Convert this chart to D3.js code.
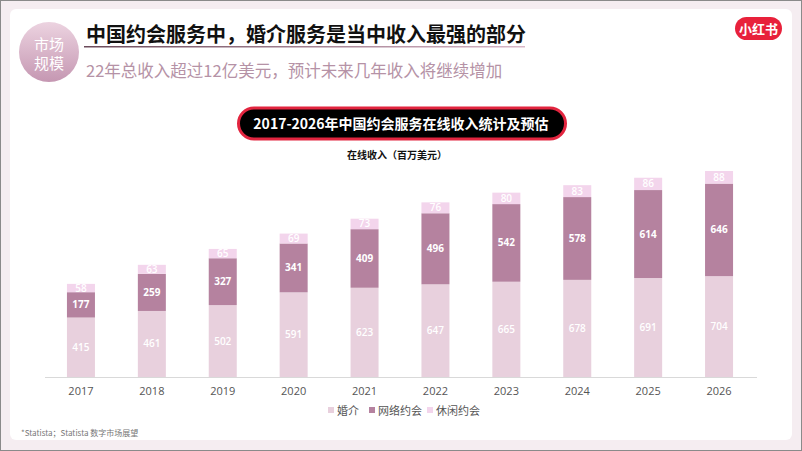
<!DOCTYPE html>
<html><head><meta charset="utf-8">
<script src="https://cdn.jsdelivr.net/npm/d3@7"></script>
<style>
html,body{margin:0;padding:0;background:#fff;}
svg{display:block;}
text{font-family:"Open Sans","Noto Sans CJK SC",sans-serif;}
</style></head>
<body><svg id="c" width="802" height="451"></svg>
<script>
const years = ["2017","2018","2019","2020","2021","2022","2023","2024","2025","2026"];
const marriage = [415,461,502,591,623,647,665,678,691,704];
const online = [177,259,327,341,409,496,542,578,614,646];
const casual = [58,63,65,69,73,76,80,83,86,88];
const seriesNames = ["婚介","网络约会","休闲约会"];
const seriesColors = ["#e8d0dd","#b5829f","#f3d5ec"];

const svg = d3.select("#c");
const cjk = '"Noto Sans CJK SC",sans-serif';

// background frame
svg.append("rect").attr("x",0.5).attr("y",0.5).attr("width",801).attr("height",450)
  .attr("fill","#f5edf1").attr("stroke","#8a8a8a").attr("stroke-width",1);
svg.append("rect").attr("x",10).attr("y",9).attr("width",782).attr("height",431)
  .attr("rx",6).attr("fill","#ffffff");

const defs = svg.append("defs");
const g1 = defs.append("linearGradient").attr("id","circ").attr("x1",0).attr("y1",0).attr("x2",0).attr("y2",1);
g1.append("stop").attr("offset","0%").attr("stop-color","#ecd3e0");
g1.append("stop").attr("offset","100%").attr("stop-color","#c597b2");
const g2 = defs.append("linearGradient").attr("id","ul").attr("x1",0).attr("y1",0).attr("x2",1).attr("y2",0);
g2.append("stop").attr("offset","0%").attr("stop-color","#6b4a5a");
g2.append("stop").attr("offset","100%").attr("stop-color","#d9b7c8");

// badge circle
svg.append("circle").attr("cx",49).attr("cy",52).attr("r",30).attr("fill","url(#circ)");
svg.append("text").attr("x",49).attr("y",50).attr("text-anchor","middle")
  .attr("font-size",15).attr("fill","#fff").style("font-family",cjk).text("市场");
svg.append("text").attr("x",49).attr("y",69).attr("text-anchor","middle")
  .attr("font-size",15).attr("fill","#fff").style("font-family",cjk).text("规模");

// title
svg.append("text").attr("x",86).attr("y",42).attr("font-size",20).attr("font-weight","bold")
  .attr("fill","#111").style("font-family",cjk).text("中国约会服务中，婚介服务是当中收入最强的部分");
svg.append("rect").attr("x",84).attr("y",46).attr("width",441).attr("height",1.5).attr("fill","url(#ul)");
svg.append("text").attr("x",86).attr("y",77).attr("font-size",16.5)
  .attr("fill","#b592a6").style("font-family",cjk).text("22年总收入超过12亿美元，预计未来几年收入将继续增加");

// logo
svg.append("rect").attr("x",735).attr("y",17).attr("width",47).attr("height",23).attr("rx",11.5).attr("fill","#e8213b");
svg.append("text").attr("x",758.5).attr("y",33.5).attr("text-anchor","middle").attr("font-size",13)
  .attr("font-weight","bold").attr("fill","#fff").style("font-family",cjk).text("小红书");

// chart title pill
svg.append("rect").attr("x",238.5).attr("y",108).attr("width",327).attr("height",31).attr("rx",15.5)
  .attr("fill","#000").attr("stroke","#e2253f").attr("stroke-width",3);
svg.append("text").attr("x",401).attr("y",128.5).attr("text-anchor","middle").attr("font-size",14)
  .attr("font-weight","bold").attr("fill","#fff").style("font-family",cjk).text("2017-2026年中国约会服务在线收入统计及预估");
svg.append("text").attr("x",397).attr("y",159).attr("text-anchor","middle").attr("font-size",10)
  .attr("font-weight","bold").attr("fill","#111").style("font-family",cjk).text("在线收入（百万美元）");

// scales
const x = d3.scaleBand().domain(years).range([45.5,754.5]).paddingInner(0.605).paddingOuter(0.3025);
const y = d3.scaleLinear().domain([0,1438]).range([377,171]);

const rows = years.map((yr,i)=>({year:yr, "婚介":marriage[i], "网络约会":online[i], "休闲约会":casual[i]}));
const stack = d3.stack().keys(seriesNames)(rows);

const gBars = svg.append("g");
stack.forEach((s,si)=>{
  gBars.selectAll(null).data(s).enter().append("rect")
    .attr("x",d=>x(d.data.year)).attr("width",x.bandwidth())
    .attr("y",d=>y(d[1])).attr("height",d=>y(d[0])-y(d[1]))
    .attr("fill",seriesColors[si]);
  gBars.selectAll(null).data(s).enter().append("text")
    .attr("x",d=>x(d.data.year)+x.bandwidth()/2)
    .attr("y",d=>(y(d[0])+y(d[1]))/2+3.5)
    .attr("text-anchor","middle").attr("font-size",10).attr("font-weight",si===1?"bold":"600")
    .attr("fill","#fff").text(d=>d.data[seriesNames[si]]);
});

// x axis
const ax = svg.append("g").attr("transform","translate(0,377)")
  .call(d3.axisBottom(x).tickSize(0).tickPadding(10));
ax.select(".domain").attr("stroke","#d9d9d9").attr("d","M45,0.5H757");
ax.selectAll("text").attr("font-size",11).attr("fill","#555").style("font-family",'"Open Sans",sans-serif');

// legend
const legX = [331,372,430];
seriesNames.forEach((n,i)=>{
  svg.append("rect").attr("x",legX[i]-3).attr("y",407).attr("width",6).attr("height",6).attr("fill",seriesColors[i]);
  svg.append("text").attr("x",legX[i]+6).attr("y",414.5).attr("font-size",11).attr("fill","#555")
    .style("font-family",cjk).text(n);
});

// footnote
svg.append("text").attr("x",21).attr("y",436).attr("font-size",8).attr("fill","#777")
  .style("font-family",cjk).text("*Statista；Statista 数字市场展望");
</script></body></html>
